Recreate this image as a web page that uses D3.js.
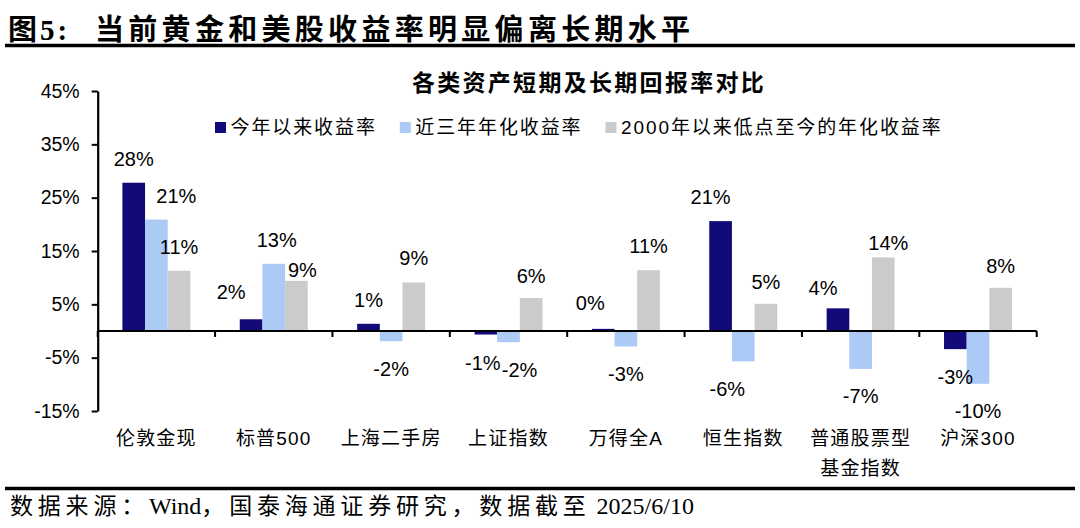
<!DOCTYPE html>
<html><head><meta charset="utf-8">
<script src="https://cdn.jsdelivr.net/npm/d3@7"></script>
<style>
html,body{margin:0;padding:0;background:#fff;}
svg{display:block;}
</style></head>
<body>
<svg id="chart" width="1080" height="528"></svg>
<script>
const categories = ["伦敦金现","标普500","上海二手房","上证指数","万得全A","恒生指数","普通股票型\n基金指数","沪深300"];
const seriesNames = ["今年以来收益率","近三年年化收益率","2000年以来低点至今的年化收益率"];
const ytdReturn = [27.8, 2.2, 1.35, -0.66, 0.4, 20.6, 4.25, -3.4];
const threeYearAnn = [20.9, 12.6, -1.9, -2.1, -2.9, -5.7, -7.1, -9.9];
const since2000Ann = [11.3, 9.4, 9.1, 6.2, 11.4, 5.1, 13.8, 8.1];
const yTicks = [-15, -5, 5, 15, 25, 35, 45];
const titleText = "当前黄金和美股收益率明显偏离长期水平";
const chartTitle = "各类资产短期及长期回报率对比";
const sourceParts = ["数据来源：", "Wind", "，国泰海通证券研究，数据截至", " 2025/6/10"];

// label nudges (layout only)
const nudgeDx = [[0,-20,0,-3,-13,-10,-15,0],[20,3,0,11,0,-16,0,0],[0,6,0,0,0,0,5,0]];
const nudgeDy = [[0,-3,0,1,-2,0,4,0],[0,0,0,0,0,0,0,0],[0,13,0,2,0,2,10,2]];

const colors = ["#130a7a","#abcaf6","#cbcbcb"];
const allSeries = [ytdReturn, threeYearAnn, since2000Ann];

const svg = d3.select("#chart");
const cjkSerif = "'Liberation Serif','Noto Sans CJK SC',serif";
const cjkSans = "'Liberation Sans','Noto Sans CJK SC',sans-serif";

// Header
svg.append("text").attr("x",8).attr("y",40)
  .style("font-family",cjkSerif).style("font-weight","bold").style("font-size","29px")
  .style("letter-spacing","3px").text("图5:");
svg.append("text").attr("x",95).attr("y",40)
  .style("font-family",cjkSerif).style("font-weight","bold").style("font-size","29px")
  .style("letter-spacing","4.3px").text(titleText);
svg.append("line").attr("x1",5).attr("x2",1075).attr("y1",45.5).attr("y2",45.5)
  .attr("stroke","#000").attr("stroke-width",3.5);

// Footer
svg.append("line").attr("x1",5).attr("x2",1075).attr("y1",488.5).attr("y2",488.5)
  .attr("stroke","#000").attr("stroke-width",3.5);
const foot = svg.append("text").attr("x",10).attr("y",514)
  .style("font-family",cjkSerif).style("font-size","23px");
sourceParts.forEach((p,i)=>{
  foot.append("tspan").style("letter-spacing", i%2===0 ? "4.8px" : "0px")
    .style("font-size", i%2===0 ? "23px" : "24px").text(p);
});

// Scales
const x0 = d3.scaleBand().domain(categories).range([97.7, 1036.7]).padding(0);
const x1 = d3.scaleBand().domain(d3.range(3)).range([0, x0.bandwidth()]).paddingInner(0).paddingOuter(1.09);
const y = d3.scaleLinear().domain([-15, 45]).range([411, 91]);

// Chart title
svg.append("text").attr("x",589).attr("y",91).attr("text-anchor","middle")
  .style("font-family",cjkSerif).style("font-weight","bold").style("font-size","23px")
  .style("letter-spacing","2.3px").text(chartTitle);

// Legend
const legend = svg.append("g");
let lx = 215;
seriesNames.forEach((name,i)=>{
  legend.append("rect").attr("x",lx).attr("y",122).attr("width",11).attr("height",11).attr("fill",colors[i]);
  const t = legend.append("text").attr("x",lx+15.5).attr("y",134)
    .style("font-family",cjkSans).style("font-size","19px").style("letter-spacing","1.9px")
    .text(name);
  lx = lx + 15.5 + t.node().getComputedTextLength() + 23;
});

// Bars
const g = svg.append("g");
categories.forEach((c,ci)=>{
  allSeries.forEach((s,si)=>{
    const v = s[ci];
    g.append("rect")
      .attr("x", x0(c)+x1(si))
      .attr("width", x1.bandwidth())
      .attr("y", y(Math.max(0,v)))
      .attr("height", Math.abs(y(v)-y(0)))
      .attr("fill", colors[si]);
  });
});

// Data labels
categories.forEach((c,ci)=>{
  allSeries.forEach((s,si)=>{
    const v = s[ci];
    const cx = x0(c)+x1(si)+x1.bandwidth()/2 + nudgeDx[si][ci];
    const cy = (v>=0 ? y(v)-24 : y(v)+27.5) + nudgeDy[si][ci];
    svg.append("text").attr("x",cx).attr("y",cy+7).attr("text-anchor","middle")
      .style("font-family",cjkSans).style("font-size","20px").attr("fill","#000")
      .text(Math.round(v)+"%");
  });
});

// Y axis
const yAxis = d3.axisLeft(y).tickValues(yTicks).tickSize(6).tickSizeOuter(0).tickFormat(d=>d+"%");
const ya = svg.append("g").attr("transform","translate(97.7,0)").call(yAxis);
ya.select(".domain").attr("stroke","#000").attr("stroke-width",2.2);
ya.selectAll(".tick line").attr("stroke","#000").attr("stroke-width",2);
ya.selectAll(".tick text").attr("x",-18).style("font-family",cjkSans).style("font-size","19.5px").attr("fill","#000");

// X axis (zero line with boundary ticks)
const xa = svg.append("g").attr("transform",`translate(0,${y(0)})`);
xa.append("line").attr("x1",x0.range()[0]).attr("x2",x0.range()[1]).attr("stroke","#000").attr("stroke-width",2.2);
const bounds = categories.map(c=>x0(c)).concat([x0.range()[1]]);
xa.selectAll(".bt").data(bounds).enter().append("line")
  .attr("x1",d=>d).attr("x2",d=>d).attr("y1",0).attr("y2",6)
  .attr("stroke","#000").attr("stroke-width",2);

// Category labels
categories.forEach(c=>{
  const lines = c.split("\n");
  const t = svg.append("text").attr("text-anchor","middle")
    .style("font-family",cjkSans).style("font-size","19px").style("letter-spacing","1.2px");
  lines.forEach((ln,li)=>{
    t.append("tspan").attr("x", x0(c)+x0.bandwidth()/2).attr("y", 445 + li*29.5).text(ln);
  });
});
</script>
</body></html>
